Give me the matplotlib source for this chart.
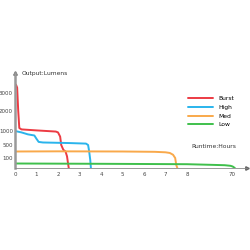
import numpy as np
import matplotlib
matplotlib.use('Agg')
import matplotlib.pyplot as plt

# runtime (hours) / output (lumens)
burst_t = [0, 0.05, 0.1, 0.15, 0.2, 0.3, 1.0, 1.9, 2.0, 2.1, 2.15, 2.25, 2.35, 2.42, 2.47, 2.5]
burst_l = [3500, 3450, 3300, 2000, 1150, 1080, 1030, 980, 950, 800, 500, 350, 300, 150, 40, 0]
high_t = [0, 0.3, 0.6, 0.9, 1.0, 1.1, 1.3, 2.5, 3.3, 3.4, 3.45, 3.5, 3.53]
high_l = [1000, 950, 880, 840, 720, 610, 590, 570, 550, 500, 300, 80, 0]
med_t = [0, 2, 5, 6.5, 7.0, 7.2, 7.35, 7.45, 7.5, 7.55]
med_l = [300, 305, 300, 290, 275, 255, 200, 100, 30, 0]
low_t = [0, 4, 8, 40, 60, 68, 71, 73, 74]
low_l = [45, 42, 38, 32, 28, 22, 15, 5, 0]

series = [('Burst', burst_t, burst_l, '#ec3b43'),
          ('High', high_t, high_l, '#2ab4ec'),
          ('Med', med_t, med_l, '#f9a94b'),
          ('Low', low_t, low_l, '#3fc04c')]

xticks = [0, 1, 2, 3, 4, 5, 6, 7, 8, 70]
yticks = [100, 500, 1000, 2000, 3000]

# broken-style axes: piecewise linear mapping
xk = [0, 8, 70, 100]
xp = [0, 8, 10.09, 11.1]
yk = [0, 100, 500, 1000, 2000, 3000, 5000]
yp = [0, 10, 23, 37, 57, 75, 111]

def xf(v): return np.interp(v, xk, xp)
def xi(v): return np.interp(v, xp, xk)
def yf(v): return np.interp(v, yk, yp)
def yi(v): return np.interp(v, yp, yk)

fig = plt.figure(figsize=(2.5, 2.5), dpi=100)
ax = fig.add_axes([0.06, 0.328, 0.928, 0.38])
ax.set_xscale('function', functions=(xf, xi))
ax.set_yscale('function', functions=(yf, yi))

for name, t, l, c in series:
    ax.plot(t, l, color=c, lw=1.4, label=name, solid_capstyle='round')

ax.set_xlim(0, xi(10.79))
ax.set_ylim(0, yi(95))
ax.set_xticks(xticks)
ax.set_xticklabels([str(v) for v in xticks])
ax.set_yticks(yticks)
ax.set_yticklabels([str(v) for v in yticks])
ax.minorticks_off()
ax.tick_params(length=0, labelsize=4.0, colors='#444444')
ax.tick_params(axis='y', pad=1.5)
ax.tick_params(axis='x', pad=3)

for s in ['top', 'right']:
    ax.spines[s].set_visible(False)
ax.spines['left'].set_color('#999999')
ax.spines['left'].set_linewidth(1.8)
ax.spines['bottom'].set_color('#888888')
ax.spines['bottom'].set_linewidth(0.6)

# axis arrows
ax.plot(1, 0, '>', color='#666666', ms=2.5, transform=ax.transAxes, clip_on=False)
ax.plot(0, 1, '^', color='#666666', ms=2.5, transform=ax.transAxes, clip_on=False)

ax.text(0.03, 1.0, 'Output:Lumens', transform=ax.transAxes, fontsize=4.3,
        color='#333333', va='center', ha='left')
ax.text(0.955, 0.23, 'Runtime:Hours', transform=ax.transAxes, fontsize=4.3,
        color='#333333', va='center', ha='right')

ax.legend(loc='upper right', bbox_to_anchor=(0.97, 0.815), frameon=False,
          fontsize=4.3, handlelength=4.2, handletextpad=1.0, labelspacing=0.6)

fig.savefig('out.png', dpi=100, facecolor='white')
